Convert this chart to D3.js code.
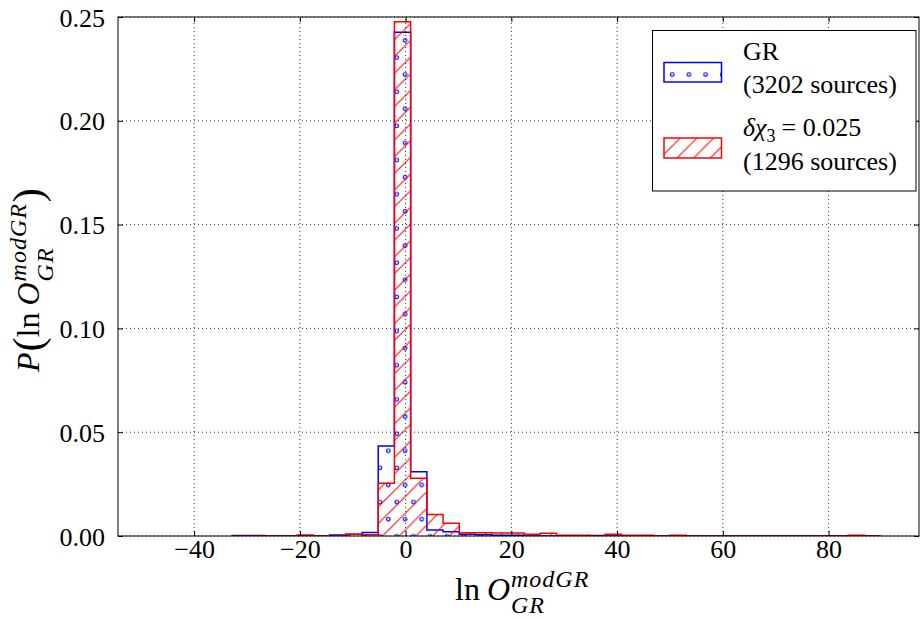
<!DOCTYPE html>
<html><head><meta charset="utf-8">
<script src="https://cdn.jsdelivr.net/npm/d3@7"></script>
<style>body{margin:0;background:#fff}</style>
</head><body>
<svg id="c" width="923" height="619"></svg>
<script>
// ---- data ----
const binEdges = [-32.77,-29.70,-26.64,-23.57,-20.51,-17.44,-14.38,-11.31,-8.25,-5.18,
  -2.12,0.95,4.02,7.08,10.15,13.21,16.28,19.34,22.41,25.47,
  28.54,31.60,34.67,37.73,40.80,43.86,46.93,49.99,53.06,56.12,
  59.19,62.25,65.32,68.38,71.45,74.51,77.58,80.64,83.71,86.77,89.84];
const grDensity = [0.0003,0.0003,0,0,0,0,0.0005,0.0009,0.0017,0.0434,
  0.2426,0.0310,0.0029,0.0020,0.0008,0.0006,0.0004,0.0004,0,0,
  0,0,0.0003,0,0,0,0,0,0,0,
  0,0,0,0,0,0,0,0,0,0];
const dchiDensity = [0,0,0,0,0.0005,0,0,0.0008,0.0006,0.0254,
  0.2477,0.0278,0.0104,0.0061,0.0016,0.0016,0.0014,0.0014,0.0008,0.0013,
  0.0004,0.0004,0,0.0008,0.0004,0.0004,0,0.0004,0,0,
  0,0,0,0,0,0,0,0,0.0004,0];
const xTicks = [-40,-20,0,20,40,60,80];
const yTicks = [0,0.05,0.10,0.15,0.20,0.25];
const xDomain = [-54.4, 97.1];
const yDomain = [0, 0.25];
const legendSources = ["(3202 sources)", "(1296 sources)"];

// ---- layout ----
const W = 923, H = 619;
const M = {left:118, right:4, top:17, bottom:83};
const FONT = "'Liberation Serif','DejaVu Serif',serif";
const svg = d3.select("#c");
const x = d3.scaleLinear().domain(xDomain).range([M.left, W - M.right]);
const y = d3.scaleLinear().domain(yDomain).range([H - M.bottom, M.top]);

const defs = svg.append("defs");
const pd = defs.append("pattern").attr("id","dots").attr("patternUnits","userSpaceOnUse")
  .attr("width",16.7).attr("height",34.2);
pd.append("circle").attr("cx",12.6).attr("cy",23.3).attr("r",1.8).attr("fill","none").attr("stroke","#0000ff").attr("stroke-width",1.2);
pd.append("circle").attr("cx",4.25).attr("cy",6.2).attr("r",1.8).attr("fill","none").attr("stroke","#0000ff").attr("stroke-width",1.2);
const ph = defs.append("pattern").attr("id","hatch").attr("patternUnits","userSpaceOnUse")
  .attr("width",16.7).attr("height",16.7);
ph.append("path").attr("d","M-2,18.7 L18.7,-2 M-4,4 L4,-4 M12.7,20.7 L20.7,12.7")
  .attr("stroke","#ff0000").attr("stroke-width",1).attr("fill","none");
defs.append("clipPath").attr("id","clip").append("rect")
  .attr("x",M.left).attr("y",M.top).attr("width",W-M.left-M.right).attr("height",H-M.top-M.bottom);

function stepPath(vals){
  const p = d3.path();
  p.moveTo(x(binEdges[0]), y(0));
  vals.forEach((v,i)=>{ p.lineTo(x(binEdges[i]), y(v)); p.lineTo(x(binEdges[i+1]), y(v)); });
  p.lineTo(x(binEdges[vals.length]), y(0));
  return p.toString();
}
const plot = svg.append("g").attr("clip-path","url(#clip)");
plot.append("path").attr("d", stepPath(grDensity)).attr("fill","url(#dots)")
  .attr("stroke","#0000ff").attr("stroke-width",1.5).attr("stroke-linejoin","miter");
plot.append("path").attr("d", stepPath(dchiDensity)).attr("fill","url(#hatch)")
  .attr("stroke","#ff0000").attr("stroke-width",1.5).attr("stroke-linejoin","miter");

// grid
const grid = svg.append("g").attr("stroke","#000").attr("stroke-width",0.8).attr("stroke-dasharray","1,3");
xTicks.forEach(t=>grid.append("line").attr("x1",x(t)).attr("x2",x(t)).attr("y1",y(yDomain[0])).attr("y2",y(yDomain[1])));
yTicks.forEach(t=>grid.append("line").attr("y1",y(t)).attr("y2",y(t)).attr("x1",x(xDomain[0])).attr("x2",x(xDomain[1])));

// axes
const fmtX = d => d < 0 ? "\u2212" + Math.abs(d) : String(d);
const gb = svg.append("g").attr("transform",`translate(0,${H-M.bottom})`)
  .call(d3.axisBottom(x).tickValues(xTicks).tickSize(-5).tickFormat(fmtX));
gb.selectAll("text").attr("y",22).attr("dy",0).style("font-family",FONT).style("font-size","26px").attr("fill","#000");
const gt = svg.append("g").attr("transform",`translate(0,${M.top})`)
  .call(d3.axisTop(x).tickValues(xTicks).tickSize(-5).tickFormat(""));
const gl = svg.append("g").attr("transform",`translate(${M.left},0)`)
  .call(d3.axisLeft(y).tickValues(yTicks).tickSize(-5).tickFormat(d3.format(".2f")));
gl.selectAll("text").attr("x",-13).attr("dy","0.35em").style("font-family",FONT).style("font-size","26px").attr("fill","#000");
const gr = svg.append("g").attr("transform",`translate(${W-M.right},0)`)
  .call(d3.axisRight(y).tickValues(yTicks).tickSize(-5).tickFormat(""));
[gb,gt,gl,gr].forEach(g=>{ g.select(".domain").remove(); g.selectAll("line").attr("stroke","#000"); });
svg.append("rect").attr("x",M.left).attr("y",M.top).attr("width",W-M.left-M.right).attr("height",H-M.top-M.bottom)
  .attr("fill","none").attr("stroke","#000").attr("stroke-width",1);

// math text helper
function drawMath(parent, parts){
  let cx = 0;
  parts.forEach(p=>{
    const st = t => t.style("font-family",FONT).style("fill","#000");
    if (p.sup !== undefined){
      const a = st(parent.append("text")).attr("x",cx).attr("y",-p.up).style("font-size",p.size+"px").style("font-style","italic")
        .style("letter-spacing",(p.ls||0)+"px").text(p.sup);
      const b = st(parent.append("text")).attr("x",cx).attr("y",p.down).style("font-size",p.size+"px").style("font-style","italic")
        .style("letter-spacing",(p.ls||0)+"px").text(p.sub);
      cx += Math.max(a.node().getComputedTextLength(), b.node().getComputedTextLength()) + (p.gap||0);
    } else {
      const t = st(parent.append("text")).attr("x",cx).attr("y",p.dy||0).style("font-size",p.size+"px")
        .style("font-style",p.italic?"italic":"normal").text(p.t);
      cx += t.node().getComputedTextLength() + (p.gap||0);
    }
  });
  return cx;
}
// x label
const xl = svg.append("g").attr("transform","translate(455,600)");
drawMath(xl,[{t:"ln",size:32,gap:7},{t:"O",italic:true,size:32,gap:1},{sup:"modGR",sub:"GR",size:24,up:13,down:13,ls:1}]);
// y label
const yl = svg.append("g").attr("transform","translate(39,372) rotate(-90)");
drawMath(yl,[{t:"P",italic:true,size:32,gap:1},{t:"(",size:42,dy:3},{t:"ln",size:32,gap:7},{t:"O",italic:true,size:32,gap:1},
  {sup:"modGR",sub:"GR",size:24,up:13,down:14,gap:1,ls:1},{t:")",size:42,dy:3}]);

// legend
const lg = svg.append("g");
lg.append("rect").attr("x",652.5).attr("y",30.5).attr("width",263.5).attr("height",160.5)
  .attr("fill","#fff").attr("stroke","#000").attr("stroke-width",1);
lg.append("rect").attr("x",664).attr("y",62.5).attr("width",57.5).attr("height",19.5)
  .attr("fill","url(#dots)").attr("stroke","#0000ff").attr("stroke-width",1.5);
lg.append("rect").attr("x",664).attr("y",138).attr("width",57.5).attr("height",20)
  .attr("fill","url(#hatch)").attr("stroke","#ff0000").attr("stroke-width",1.5);
const l1 = lg.append("g").attr("transform","translate(743,60)");
drawMath(l1,[{t:"GR",size:26}]);
lg.append("text").attr("x",743).attr("y",93).style("font-family",FONT).style("font-size","26px").text(legendSources[0]);
const l2 = lg.append("g").attr("transform","translate(743,136)");
drawMath(l2,[{t:"δ",italic:true,size:26},{t:"χ",italic:true,size:26},{t:"3",size:18,dy:6,gap:6},{t:"= 0.025",size:26}]);
lg.append("text").attr("x",743).attr("y",170).style("font-family",FONT).style("font-size","26px").text(legendSources[1]);
</script>
</body></html>
